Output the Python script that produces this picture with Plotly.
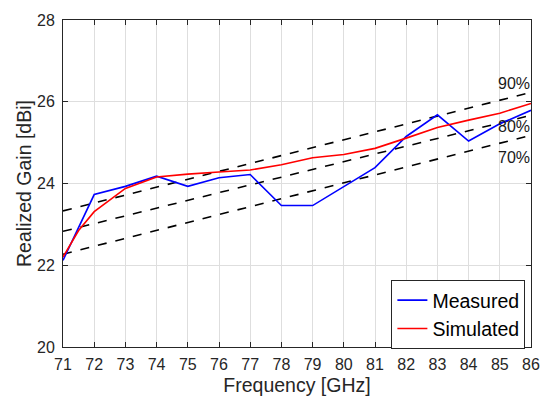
import plotly.graph_objects as go

freq = [71, 72, 73, 74, 75, 76, 77, 78, 79, 80, 81, 82, 83, 84, 85, 86]
measured = [22.12, 23.73, 23.93, 24.18, 23.93, 24.14, 24.22, 23.46, 23.46, 23.93, 24.39, 25.15, 25.68, 25.04, 25.46, 25.79]
sim_freq = [71, 71.5, 72, 73, 74, 75, 76, 77, 78, 79, 80, 81, 82, 83, 84, 85, 86]
simulated = [22.2, 22.85, 23.31, 23.88, 24.16, 24.23, 24.28, 24.33, 24.46, 24.63, 24.71, 24.86, 25.11, 25.37, 25.55, 25.72, 25.96]
eff_freq = [71, 86]
eff90 = [23.33, 26.23]
eff80 = [22.83, 25.67]
eff70 = [22.27, 25.18]
eff_labels = ["90%", "80%", "70%"]
eff_label_y = [26.45, 25.4, 24.63]

fig = go.Figure()
for ys in (eff90, eff80, eff70):
    fig.add_trace(go.Scatter(x=eff_freq, y=ys, mode="lines", showlegend=False,
                             line=dict(color="black", width=1.6, dash="dash")))
fig.add_trace(go.Scatter(x=freq, y=measured, mode="lines", name="Measured",
                         line=dict(color="#0000ff", width=1.6)))
fig.add_trace(go.Scatter(x=sim_freq, y=simulated, mode="lines", name="Simulated",
                         line=dict(color="#ff0000", width=1.6)))

for lab, yv in zip(eff_labels, eff_label_y):
    fig.add_annotation(x=86, y=yv, text=lab, showarrow=False, xanchor="right",
                       yanchor="middle", xshift=1, font=dict(size=16, color="#1a1a1a"))

axis_common = dict(showline=True, linecolor="#262626", linewidth=1, mirror="ticks",
                   ticks="inside", ticklen=5, tickcolor="#262626",
                   showgrid=True, gridcolor="#dedede", gridwidth=1, zeroline=False,
                   tickfont=dict(size=16, color="#262626"))

fig.update_layout(
    width=553, height=405,
    margin=dict(l=63, r=22, t=15, b=56),
    paper_bgcolor="white", plot_bgcolor="white",
    font=dict(family="Liberation Sans, Arial, sans-serif", color="#262626"),
    xaxis=dict(range=[71, 86], dtick=1, tick0=71, ticklabelstandoff=3,
               title=dict(text="Frequency [GHz]", font=dict(size=19.5, color="#262626"), standoff=6),
               **axis_common),
    yaxis=dict(range=[20, 28], dtick=2, tick0=20, ticklabelstandoff=4,
               title=dict(text="Realized Gain [dBi]", font=dict(size=19.5, color="#262626"), standoff=0),
               **axis_common),
    legend=dict(x=0.988, y=-0.006, xanchor="right", yanchor="bottom",
                bordercolor="#262626", borderwidth=1, bgcolor="white",
                font=dict(size=19.5, color="black"), tracegroupgap=0,
                itemwidth=30),
)

fig.write_html("out.html")
